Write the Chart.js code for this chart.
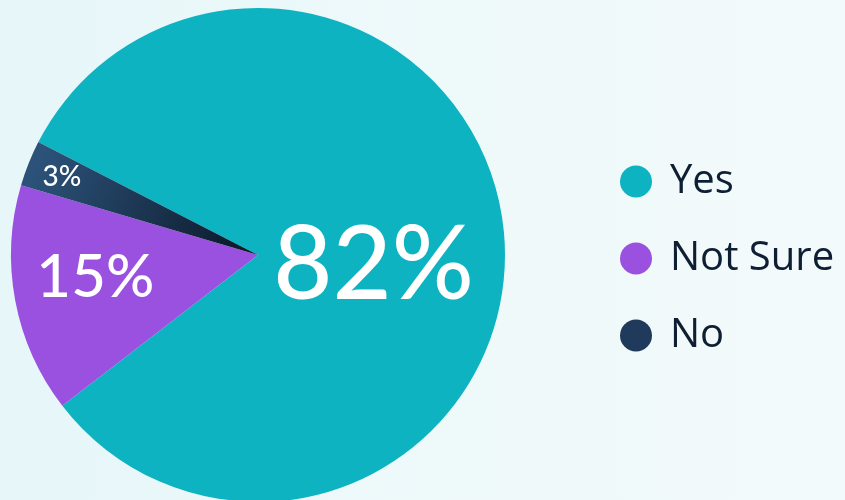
<!DOCTYPE html>
<html>
<head>
<meta charset="utf-8">
<script src="https://cdn.jsdelivr.net/npm/chart.js"></script>
<style>
  html, body { margin: 0; padding: 0; }
  body {
    width: 845px;
    height: 500px;
    overflow: hidden;
    background: linear-gradient(90deg, #e6f6f9 0%, #eef9fa 50%, #f3fafb 100%);
  }
  canvas { display: block; }
</style>
</head>
<body>
<canvas id="pie" width="845" height="510"></canvas>
<script>
// Survey answers
const labels = ["Yes", "Not Sure", "No"]
const shares = [82, 15, 3]
const colors = ["#0db3c1", "#9b51e0", "#1f3a5a"]

// Label placement along each slice (fraction of radius), nudge and font size
const labelRadius = [0.47, 0.67, 0.855]
const labelNudgeY = [22, -8, 0]
const labelSize = [102, 60, 28]

const FONT = "Lato, 'Noto Sans', sans-serif"
const LEGEND_FONT = "'Open Sans', 'Noto Sans', sans-serif"

// Draws percentages inside slices
const sliceLabels = {
  id: "sliceLabels",
  afterDatasetsDraw(chart) {
    const { ctx } = chart
    const meta = chart.getDatasetMeta(0)
    meta.data.forEach((arc, i) => {
      const { x, y, startAngle, endAngle, outerRadius } = arc.getProps(
        ["x", "y", "startAngle", "endAngle", "outerRadius"], true)
      const mid = (startAngle + endAngle) / 2
      const r = outerRadius * labelRadius[i]
      ctx.save()
      ctx.fillStyle = "#ffffff"
      ctx.font = "500 " + labelSize[i] + "px " + FONT
      ctx.textAlign = "center"
      ctx.textBaseline = "middle"
      ctx.fillText(shares[i] + "%", x + Math.cos(mid) * r, y + Math.sin(mid) * r + labelNudgeY[i])
      ctx.restore()
    })
  },
}

// Legend on the right
const sideLegend = {
  id: "sideLegend",
  afterDraw(chart) {
    const { ctx } = chart
    labels.forEach((name, i) => {
      const cy = 181.5 + i * 77
      ctx.save()
      ctx.beginPath()
      ctx.arc(636, cy, 16, 0, Math.PI * 2)
      ctx.fillStyle = colors[i]
      ctx.fill()
      ctx.fillStyle = "#0f1f33"
      ctx.font = "40px " + LEGEND_FONT
      ctx.textAlign = "left"
      ctx.textBaseline = "middle"
      ctx.fillText(name, 670, cy)
      ctx.restore()
    })
  },
}

new Chart(document.getElementById("pie"), {
  type: "pie",
  data: {
    labels: labels,
    datasets: [
      {
        data: shares,
        borderWidth: 0,
        backgroundColor: (context) => {
          const i = context.dataIndex
          if (i !== 2) return colors[i]
          const g = context.chart.ctx.createLinearGradient(40, 160, 250, 255)
          g.addColorStop(0, "#2c5279")
          g.addColorStop(1, "#0b1829")
          return g
        },
      },
    ],
  },
  options: {
    responsive: false,
    animation: false,
    rotation: 297.2,
    layout: { padding: { left: 11, right: 340, top: 8, bottom: 8 } },
    plugins: {
      legend: { display: false },
      tooltip: { enabled: false },
    },
  },
  plugins: [sliceLabels, sideLegend],
})
</script>
</body>
</html>
